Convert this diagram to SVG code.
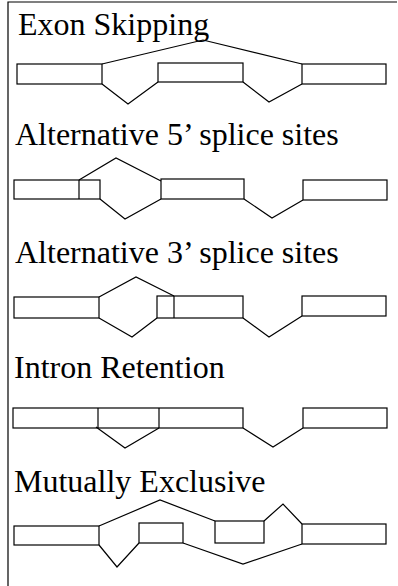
<svg xmlns="http://www.w3.org/2000/svg" width="398" height="586" viewBox="0 0 398 586">
<style>
  .t { font-family: "Liberation Serif", "Times New Roman", serif; font-size: 32px; fill: #000; }
  .ex { fill: #fff; stroke: #000; stroke-width: 1.2; }
  .ln { fill: none; stroke: #000; stroke-width: 1.2; stroke-linejoin: miter; }
  .frame { fill: none; stroke: #000; stroke-width: 1.2; }
</style>
<rect width="398" height="586" fill="#fff"/>
<path class="frame" d="M8,586 V2 H397"/>

<g id="exon-skipping">
  <text class="t" x="18" y="35">Exon Skipping</text>
  <rect class="ex" x="17" y="64" width="85" height="20"/>
  <rect class="ex" x="158" y="63" width="85" height="19"/>
  <rect class="ex" x="302" y="64" width="84" height="20"/>
</g>
<g id="alt5">
  <text class="t" x="15" y="145">Alternative 5’ splice sites</text>
  <rect class="ex" x="14" y="180" width="86" height="19"/>
  <line class="ln" x1="79" y1="180" x2="79" y2="199"/>
  <rect class="ex" x="161" y="179" width="83" height="20"/>
  <rect class="ex" x="303" y="180" width="84" height="20"/>
</g>
<g id="alt3">
  <text class="t" x="15" y="263">Alternative 3’ splice sites</text>
  <rect class="ex" x="14" y="297" width="85" height="21"/>
  <rect class="ex" x="157" y="296" width="86" height="22"/>
  <line class="ln" x1="174" y1="296" x2="174" y2="318"/>
  <rect class="ex" x="302" y="296" width="84" height="20"/>
</g>
<g id="intron-retention">
  <text class="t" x="14" y="378">Intron Retention</text>
  <rect class="ex" x="13" y="408" width="230" height="20"/>
  <line class="ln" x1="98" y1="408" x2="98" y2="428"/>
  <line class="ln" x1="159" y1="408" x2="159" y2="428"/>
  <rect class="ex" x="303" y="408" width="84" height="20"/>
</g>
<g id="mutually-exclusive">
  <text class="t" x="14" y="492">Mutually Exclusive</text>
  <rect class="ex" x="14" y="526" width="85" height="19"/>
  <rect class="ex" x="139" y="523" width="44" height="20"/>
  <rect class="ex" x="215" y="521" width="49" height="22"/>
  <rect class="ex" x="302" y="524" width="84" height="20"/>
</g>

<g id="connectors">
  <polyline class="ln" points="102,64 203,40 302,64"/>
  <polyline class="ln" points="102,84 128,104 158,82"/>
  <polyline class="ln" points="243,82 269,102 302,84"/>

  <polyline class="ln" points="79,180 116,158 161,181"/>
  <polyline class="ln" points="100,199 125,219 161,199"/>
  <polyline class="ln" points="244,199 272,218 303,200"/>

  <polyline class="ln" points="99,297 136,277 174,296"/>
  <polyline class="ln" points="99,318 132,337 157,318"/>
  <polyline class="ln" points="243,318 269,337 302,316"/>

  <polyline class="ln" points="96,427 125,448 159,428"/>
  <polyline class="ln" points="243,428 273,447 303,428"/>

  <polyline class="ln" points="99,526 160,500 215,521"/>
  <polyline class="ln" points="264,521 283,504 302,524"/>
  <polyline class="ln" points="99,545 117,567 139,543"/>
  <polyline class="ln" points="183,543 243,564 302,544"/>
</g>
</svg>
